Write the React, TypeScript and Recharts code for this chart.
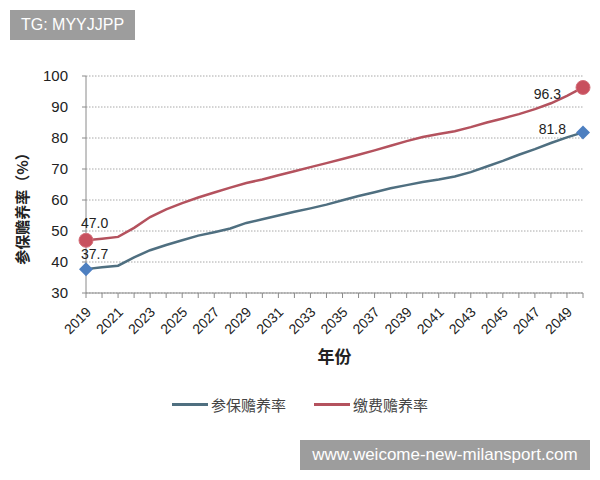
import {
  LineChart,
  Line,
  XAxis,
  YAxis,
  CartesianGrid,
  Legend,
  LabelList,
} from "recharts";

const years = [
  "2019", "2020", "2021", "2022", "2023", "2024", "2025", "2026",
  "2027", "2028", "2029", "2030", "2031", "2032", "2033", "2034",
  "2035", "2036", "2037", "2038", "2039", "2040", "2041", "2042",
  "2043", "2044", "2045", "2046", "2047", "2048", "2049", "2050",
];

// 参保赡养率
const insuredRatio = [
  37.7, 38.3, 38.8, 41.5, 43.8, 45.5, 47.0, 48.5,
  49.6, 50.8, 52.6, 53.8, 55.0, 56.2, 57.3, 58.5,
  59.9, 61.3, 62.5, 63.8, 64.8, 65.8, 66.6, 67.6,
  69.0, 70.8, 72.6, 74.6, 76.4, 78.4, 80.2, 81.8,
];

// 缴费赡养率
const payingRatio = [
  47.0, 47.5, 48.1, 51.0, 54.5, 57.0, 59.0, 60.8,
  62.4, 64.0, 65.5, 66.6, 68.0, 69.3, 70.6, 71.9,
  73.2, 74.6, 76.0, 77.5, 79.0, 80.3, 81.3, 82.2,
  83.5, 85.0, 86.3, 87.7, 89.3, 91.2, 93.6, 96.3,
];

const yTicks = [30, 40, 50, 60, 70, 80, 90, 100];

const data = years.map((year, i) => ({
  year,
  insured: insuredRatio[i],
  paying: payingRatio[i],
}));

const last = years.length - 1;
const numFont = '"Liberation Sans", Arial, sans-serif';
const cjkFont = '"Noto Sans CJK SC", sans-serif';

function YearTick({ x, y, payload }: any) {
  if (payload.index % 2 !== 0) return <g />;
  const tx = x + 6;
  const ty = y + 13;
  return (
    <text
      x={tx}
      y={ty}
      textAnchor="end"
      transform={`rotate(-45, ${tx}, ${ty})`}
      fontSize={14}
      fontFamily={numFont}
      fill="#222"
    >
      {payload.value}
    </text>
  );
}

function RoundDot({ cx, cy, index }: any) {
  if (index !== 0 && index !== last) return <g key={`r${index}`} />;
  return <circle key={`r${index}`} cx={cx} cy={cy} r={7} fill="#c8505e" stroke="#d4707b" strokeWidth={1} />;
}

function DiamondDot({ cx, cy, index }: any) {
  if (index !== 0 && index !== last) return <g key={`d${index}`} />;
  const s = 7;
  return (
    <path
      key={`d${index}`}
      d={`M${cx},${cy - s}L${cx + s},${cy}L${cx},${cy + s}L${cx - s},${cy}Z`}
      fill="#4d7fc0"
    />
  );
}

function EndLabel({ x, y, value, index, dy0, dyN, dxN }: any) {
  if (index !== 0 && index !== last) return null;
  const first = index === 0;
  return (
    <text
      x={first ? x - 5 : x + dxN}
      y={first ? y + dy0 : y + dyN}
      textAnchor={first ? "start" : "end"}
      fontSize={14}
      fontFamily={numFont}
      fill="#222"
    >
      {Number(value).toFixed(1)}
    </text>
  );
}

function LegendContent({ payload }: any) {
  return (
    <div style={{ display: "flex", paddingLeft: 172, alignItems: "center", height: 20 }}>
      {payload.map((p: any) => (
        <div key={p.value} style={{ display: "flex", alignItems: "center", marginRight: 28 }}>
          <div style={{ width: 36, height: 3, background: p.color, marginRight: 3 }} />
          <span style={{ fontFamily: cjkFont, fontSize: 15, color: "#444" }}>{p.value}</span>
        </div>
      ))}
    </div>
  );
}

export default function App() {
  return (
    <div style={{ position: "relative", width: 600, height: 480, background: "#fff" }}>
      <style>{"body{margin:0}"}</style>
      <LineChart
        width={600}
        height={480}
        data={data}
        margin={{ top: 76, right: 17, bottom: 112, left: 26 }}
      >
        <CartesianGrid vertical={false} stroke="#a8a8a8" strokeDasharray="1.5 1.5" />
        <XAxis
          dataKey="year"
          interval={0}
          height={75}
          tick={<YearTick />}
          tickSize={5}
          stroke="#8a8a8a"
          label={{
            value: "年份",
            position: "insideBottom",
            offset: 5,
            fontSize: 17,
            fontWeight: "bold",
            fontFamily: cjkFont,
            fill: "#222",
          }}
        />
        <YAxis
          width={60}
          domain={[30, 100]}
          ticks={yTicks}
          interval={0}
          tickSize={4}
          tickMargin={14}
          stroke="#8a8a8a"
          tick={{ fontSize: 15, fontFamily: numFont, fill: "#222" }}
          label={{
            value: "参保赡养率（%）",
            content: () => (
              <text
                x={28}
                y={205}
                transform="rotate(-90, 28, 205)"
                textAnchor="middle"
                fontSize={15}
                fontWeight="bold"
                fontFamily={cjkFont}
                fill="#222"
              >
                参保赡养率（%）
              </text>
            ),
          }}
        />
        <Legend
          layout="horizontal"
          verticalAlign="middle"
          align="center"
          wrapperStyle={{ top: 394, left: 0, width: 600 }}
          content={<LegendContent />}
        />
        <Line
          name="参保赡养率"
          dataKey="insured"
          stroke="#4f6f80"
          strokeWidth={2.5}
          dot={<DiamondDot />}
          activeDot={false}
          isAnimationActive={false}
        >
          <LabelList dataKey="insured" content={<EndLabel dy0={-10} dyN={2} dxN={-17} />} />
        </Line>
        <Line
          name="缴费赡养率"
          dataKey="paying"
          stroke="#b4525e"
          strokeWidth={2.5}
          dot={<RoundDot />}
          activeDot={false}
          isAnimationActive={false}
        >
          <LabelList dataKey="paying" content={<EndLabel dy0={-12} dyN={12} dxN={-22} />} />
        </Line>
      </LineChart>
      <div
        style={{
          position: "absolute",
          left: 10,
          top: 10,
          width: 125,
          height: 30,
          background: "#9d9d9d",
          color: "#fff",
          fontFamily: numFont,
          fontSize: 16,
          lineHeight: "30px",
          textAlign: "center",
        }}
      >
        TG: MYYJJPP
      </div>
      <div
        style={{
          position: "absolute",
          left: 300,
          top: 440,
          width: 290,
          height: 30,
          background: "#9d9d9d",
          color: "#fff",
          fontFamily: numFont,
          fontSize: 17,
          lineHeight: "30px",
          textAlign: "center",
        }}
      >
        www.weicome-new-milansport.com
      </div>
    </div>
  );
}
